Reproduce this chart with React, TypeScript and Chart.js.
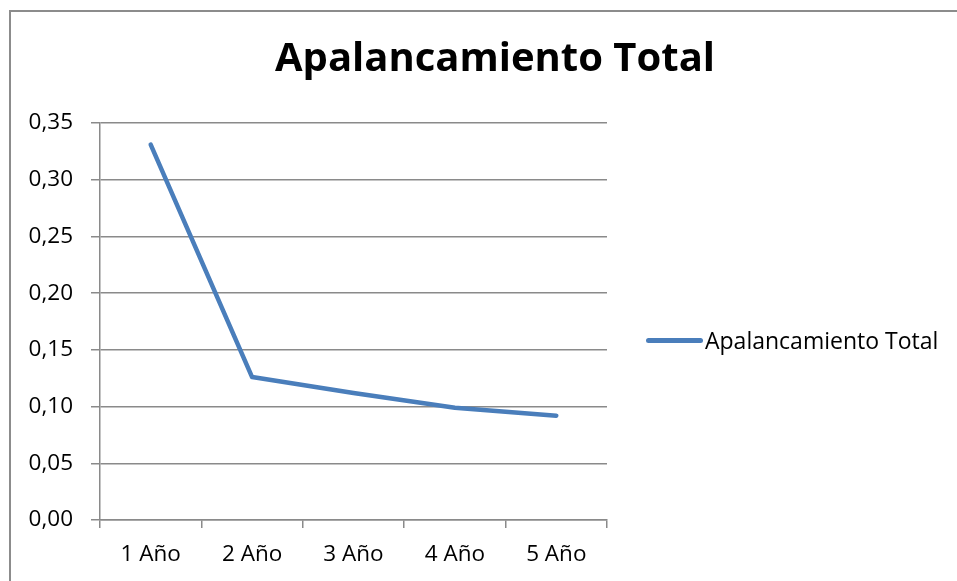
import React, { useEffect, useRef } from "react";
import { Chart, registerables } from "chart.js";

Chart.register(...registerables);

const categories = ["1 Año", "2 Año", "3 Año", "4 Año", "5 Año"];
const seriesName = "Apalancamiento Total";
const seriesValues = [0.331, 0.126, 0.112, 0.099, 0.092];
const chartTitle = "Apalancamiento Total";
const yMin = 0;
const yMax = 0.35;
const yStep = 0.05;

const LINE_COLOR = "#4a7ebb";
const GRID_COLOR = "#8a8a8a";
const FRAME_COLOR = "#8c8c8c";
const FONT = "'Open Sans', Lato, sans-serif";

const framePlugin = {
  id: "frame",
  beforeDraw(chart: any) {
    const ctx = chart.ctx;
    ctx.save();
    ctx.fillStyle = "#fff";
    ctx.fillRect(0, 0, chart.width, chart.height);
    ctx.strokeStyle = FRAME_COLOR;
    ctx.lineWidth = 2;
    ctx.beginPath();
    ctx.moveTo(10, chart.height);
    ctx.lineTo(10, 11);
    ctx.lineTo(chart.width, 11);
    ctx.stroke();
    ctx.restore();
  },
};

export default function App() {
  const canvasRef = useRef<HTMLCanvasElement | null>(null);

  useEffect(() => {
    if (!canvasRef.current) return;
    const chart = new Chart(canvasRef.current, {
      type: "line",
      data: {
        labels: categories,
        datasets: [
          {
            label: seriesName,
            data: seriesValues,
            borderColor: LINE_COLOR,
            backgroundColor: LINE_COLOR,
            borderWidth: 4.5,
            pointRadius: 0,
            tension: 0,
            borderCapStyle: "round",
            borderJoinStyle: "round",
          },
        ],
      },
      options: {
        animation: false,
        responsive: false,
        maintainAspectRatio: false,
        layout: { padding: { top: 123, right: 350, bottom: 0, left: 0 } },
        plugins: {
          legend: { display: false },
          tooltip: { enabled: false },
          title: { display: false },
        },
        scales: {
          x: {
            type: "category",
            offset: true,
            grid: {
              display: true,
              drawOnChartArea: false,
              drawTicks: true,
              tickLength: 8,
              color: GRID_COLOR,
              lineWidth: 1.5,
              offset: true,
            },
            border: { display: true, color: GRID_COLOR, width: 1.5 },
            ticks: {
              color: "#000",
              font: { family: FONT, size: 22.5 },
              padding: 13,
              maxRotation: 0,
            },
            afterFit: (scale: any) => {
              scale.height = 61;
            },
          },
          y: {
            min: yMin,
            max: yMax,
            grid: {
              display: true,
              drawOnChartArea: true,
              drawTicks: true,
              tickLength: 9,
              color: GRID_COLOR,
              lineWidth: 1.5,
            },
            border: { display: true, color: GRID_COLOR, width: 1.5 },
            ticks: {
              stepSize: yStep,
              color: "#000",
              font: { family: FONT, size: 22.5 },
              padding: 18,
              callback: (v: any) => Number(v).toFixed(2).replace(".", ","),
            },
            afterFit: (scale: any) => {
              scale.width = 100;
            },
          },
        },
      },
      plugins: [framePlugin],
    });
    return () => chart.destroy();
  }, []);

  return (
    <div
      style={{
        position: "absolute",
        left: 0,
        top: 0,
        width: 957,
        height: 581,
        background: "#fff",
        overflow: "hidden",
        fontFamily: FONT,
      }}
    >
      <canvas
        ref={canvasRef}
        width={957}
        height={581}
        style={{ position: "absolute", left: 0, top: 0, width: 957, height: 581 }}
      />
      <div
        style={{
          position: "absolute",
          left: 274,
          top: 36,
          width: 442,
          textAlign: "center",
          fontSize: 40,
          lineHeight: "40px",
          fontWeight: "bold",
          color: "#000",
          whiteSpace: "nowrap",
        }}
      >
        {chartTitle}
      </div>
      <div
        style={{
          position: "absolute",
          left: 646,
          top: 325,
          height: 30,
          display: "flex",
          alignItems: "center",
        }}
      >
        <div
          style={{
            width: 57,
            height: 5,
            borderRadius: 3,
            background: LINE_COLOR,
          }}
        />
        <span style={{ fontSize: 23, color: "#000", marginLeft: 2, whiteSpace: "nowrap" }}>
          {seriesName}
        </span>
      </div>
    </div>
  );
}
